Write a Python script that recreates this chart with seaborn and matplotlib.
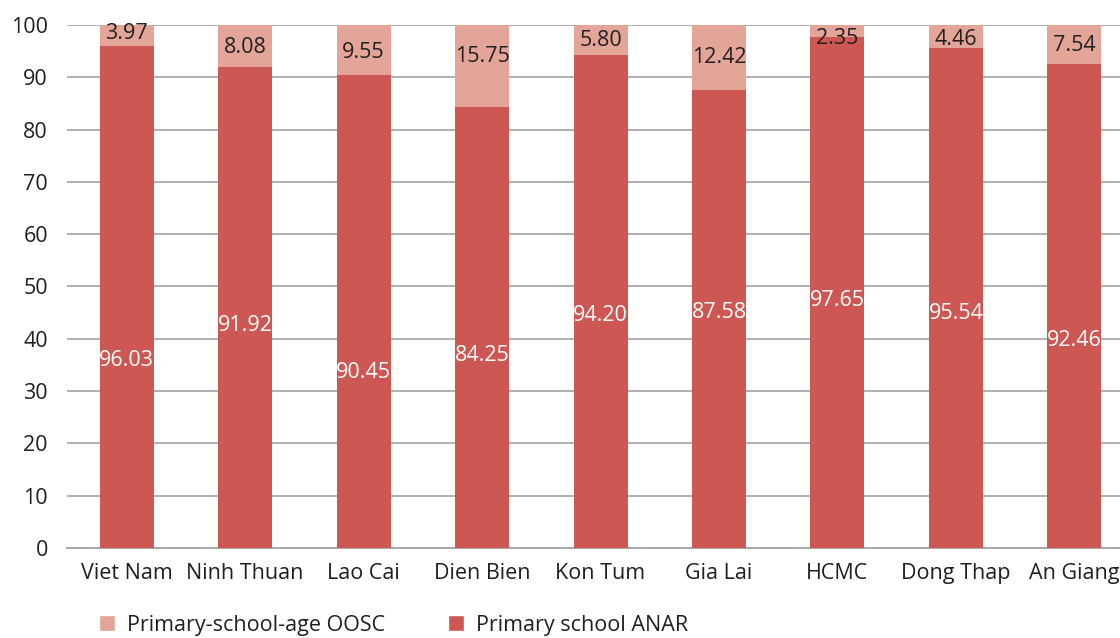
import numpy as np
import pandas as pd
import seaborn as sns
import matplotlib.pyplot as plt
from matplotlib.patches import Patch
from matplotlib.ticker import FixedLocator

regions = ['Viet Nam', 'Ninh Thuan', 'Lao Cai', 'Dien Bien', 'Kon Tum',
           'Gia Lai', 'HCMC', 'Dong Thap', 'An Giang']
anar = [96.03, 91.92, 90.45, 84.25, 94.20, 87.58, 97.65, 95.54, 92.46]
oosc = [3.97, 8.08, 9.55, 15.75, 5.80, 12.42, 2.35, 4.46, 7.54]
# where the labels sit (in data units)
anar_label_y = [35.9, 42.6, 33.5, 36.9, 44.4, 45.1, 47.4, 44.9, 39.6]
oosc_label_y = [98.3, 95.7, 94.8, 93.9, 97.1, 93.7, 97.5, 97.3, 96.0]

dark = '#CD5753'
light = '#E2A597'
txt = '#231F20'
fs = 15.5

sns.set_style('white')
plt.rcParams['font.family'] = ['Open Sans', 'DejaVu Sans']

df = pd.DataFrame({'region': regions, 'anar': anar, 'oosc': oosc})
df['total'] = df['anar'] + df['oosc']

fig = plt.figure(figsize=(11.2, 6.38), dpi=100)
ax = fig.add_axes([0.0602, 0.1411, 0.952, 0.8197])

sns.barplot(data=df, x='region', y='total', color=light, width=0.456,
            saturation=1, errorbar=None, linewidth=0, ax=ax, zorder=3)
sns.barplot(data=df, x='region', y='anar', color=dark, width=0.456,
            saturation=1, errorbar=None, linewidth=0, ax=ax, zorder=3)

for i in range(len(df)):
    ax.text(i, anar_label_y[i], f'{anar[i]:.2f}', color='white', fontsize=fs,
            ha='center', va='center', zorder=4)
    ax.text(i, oosc_label_y[i], f'{oosc[i]:.2f}', color=txt, fontsize=fs,
            ha='center', va='center', zorder=4)

ax.set_ylim(0, 100)
ax.set_xlim(-0.5, len(df) - 0.5)
ax.set_yticks(np.arange(0, 101, 10))
ax.yaxis.grid(True, color='#B0B0B0', linewidth=1.4, zorder=0)
ax.set_axisbelow(True)
ax.set_xlabel('')
ax.set_ylabel('')

for s in ['left', 'right', 'top']:
    ax.spines[s].set_visible(False)
ax.spines['bottom'].set_color('#A8A8A8')
ax.spines['bottom'].set_linewidth(1.4)

ax.xaxis.set_minor_locator(FixedLocator(np.arange(-0.5, len(df), 1.0)))
ax.tick_params(axis='x', which='minor', length=6, width=1.2, color='#A8A8A8',
               direction='out')
ax.tick_params(axis='x', which='major', length=0, pad=11, labelsize=fs,
               labelcolor=txt)
ax.tick_params(axis='y', length=0, pad=14, labelsize=fs, labelcolor=txt)

handles = [Patch(facecolor=light, label='Primary-school-age OOSC'),
           Patch(facecolor=dark, label='Primary school ANAR')]
fig.legend(handles=handles, loc='upper left', bbox_to_anchor=(0.081, 0.05),
           ncol=2, frameon=False, fontsize=fs, handlelength=0.75,
           handleheight=0.75, handletextpad=0.55, columnspacing=2.9,
           labelcolor=txt, borderaxespad=0)

fig.savefig('out.png', dpi=100)
